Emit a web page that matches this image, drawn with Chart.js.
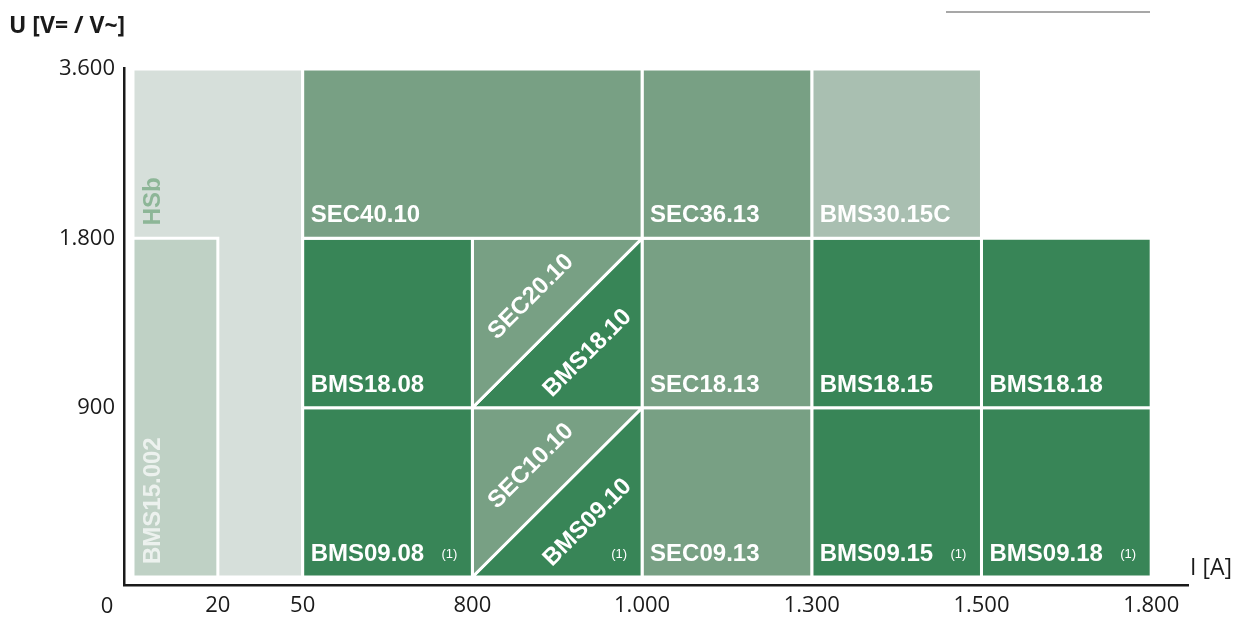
<!DOCTYPE html>
<html>
<head>
<meta charset="utf-8">
<script src="https://cdn.jsdelivr.net/npm/chart.js@4/dist/chart.umd.min.js"></script>
<style>
  html, body { margin: 0; padding: 0; background: #fff; }
  canvas { display: block; }
</style>
</head>
<body>
<canvas id="chart" width="1238" height="617"></canvas>
<script>
// axis ticks: current I [A] and voltage U [V], the drawn axis is evenly spaced per step
const xTicks = [0, 20, 50, 800, 1000, 1300, 1500, 1800];
const xSlots = [0, 0.5, 1, 2, 3, 4, 5, 6];
const yTicks = [0, 900, 1800, 3600];
const ySlots = [0, 1, 2, 3];

// product areas (I from/to, U from/to)
const boxNames = ['HSb', 'BMS15.002', 'SEC40.10', 'SEC36.13', 'BMS30.15C',
  'BMS18.08', 'SEC20.10', 'BMS18.10', 'SEC18.13', 'BMS18.15', 'BMS18.18',
  'BMS09.08', 'SEC10.10', 'BMS09.10', 'SEC09.13', 'BMS09.15', 'BMS09.18'];
const boxIFrom = [0, 0, 50, 1000, 1300, 50, 800, 800, 1000, 1300, 1500, 50, 800, 800, 1000, 1300, 1500];
const boxITo = [50, 20, 1000, 1300, 1500, 800, 1000, 1000, 1300, 1500, 1800, 800, 1000, 1000, 1300, 1500, 1800];
const boxUFrom = [0, 0, 1800, 1800, 1800, 900, 900, 900, 900, 900, 900, 0, 0, 0, 0, 0, 0];
const boxUTo = [3600, 1800, 3600, 3600, 3600, 1800, 1800, 1800, 1800, 1800, 1800, 900, 900, 900, 900, 900, 900];
// rect, or the upper-left / lower-right half of a split area
const boxShape = ['rect', 'rect', 'rect', 'rect', 'rect', 'rect', 'upper', 'lower', 'rect', 'rect', 'rect',
  'rect', 'upper', 'lower', 'rect', 'rect', 'rect'];
const footnoted = ['BMS09.08', 'BMS09.10', 'BMS09.15', 'BMS09.18'];

const COLORS = {
  'HSb': '#d6dfda',
  'BMS15.002': '#bfd1c5',
  'BMS30.15C': '#a9bfb1',
  SEC: '#78a084',
  BMS: '#388557'
};
const colorFor = (name) => COLORS[name] || (name.startsWith('SEC') ? COLORS.SEC : COLORS.BMS);

const fmt = new Intl.NumberFormat('de-DE');
const sx = (v) => xSlots[xTicks.indexOf(v)];
const sy = (v) => ySlots[yTicks.indexOf(v)];

function outline(i) {
  const x0 = sx(boxIFrom[i]), x1 = sx(boxITo[i]);
  const y0 = sy(boxUFrom[i]), y1 = sy(boxUTo[i]);
  if (boxShape[i] === 'upper') {
    return [{x: x0, y: y0}, {x: x0, y: y1}, {x: x1, y: y1}, {x: x0, y: y0}];
  }
  if (boxShape[i] === 'lower') {
    return [{x: x0, y: y0}, {x: x1, y: y0}, {x: x1, y: y1}, {x: x0, y: y0}];
  }
  return [{x: x0, y: y0}, {x: x0, y: y1}, {x: x1, y: y1}, {x: x1, y: y0}, {x: x0, y: y0}];
}

const datasets = boxNames.map((name, i) => ({
  label: name,
  data: outline(i),
  fill: 'shape',
  backgroundColor: colorFor(name),
  borderColor: '#ffffff',
  borderWidth: 3,
  borderJoinStyle: 'miter',
  pointRadius: 0,
  tension: 0,
  order: name === 'HSb' ? 1 : 0
}));

const BOLD = 'bold 24px "Liberation Sans", Arial, sans-serif';
const TICK_FONT = { family: '"Open Sans", sans-serif', size: 22 };

const boxLabels = {
  id: 'boxLabels',
  afterDatasetsDraw(chart) {
    const {ctx, scales: {x, y}} = chart;
    ctx.save();
    boxNames.forEach((name, i) => {
      const left = x.getPixelForValue(sx(boxIFrom[i]));
      const right = x.getPixelForValue(sx(boxITo[i]));
      const bottom = y.getPixelForValue(sy(boxUFrom[i]));
      const top = y.getPixelForValue(sy(boxUTo[i]));
      ctx.font = BOLD;
      ctx.fillStyle = '#ffffff';
      if (name === 'HSb' || name === 'BMS15.002') {
        // vertical label, reading upwards
        const base = name === 'HSb' ? y.getPixelForValue(sy(boxUTo[1])) : bottom;
        ctx.save();
        ctx.translate(left + 27.5, base - 13);
        ctx.rotate(-Math.PI / 2);
        ctx.fillStyle = name === 'HSb' ? '#8db697' : 'rgba(255,255,255,0.7)';
        ctx.textAlign = 'left';
        ctx.textBaseline = 'alphabetic';
        ctx.fillText(name, 0, 0);
        ctx.restore();
      } else if (boxShape[i] === 'rect') {
        ctx.textAlign = 'left';
        ctx.textBaseline = 'alphabetic';
        ctx.fillText(name, left + 8, bottom - 16);
      } else {
        const cx = boxShape[i] === 'upper' ? (2 * left + right) / 3 : (left + 2 * right) / 3;
        const cy = boxShape[i] === 'upper' ? (bottom + 2 * top) / 3 : (2 * bottom + top) / 3;
        ctx.save();
        ctx.translate(cx + 2, cy + 2);
        ctx.rotate(Math.atan2(top - bottom, right - left));
        ctx.textAlign = 'center';
        ctx.textBaseline = 'middle';
        ctx.fillText(name, 0, 0);
        ctx.restore();
      }
      if (footnoted.includes(name)) {
        ctx.font = '13px "Liberation Sans", Arial, sans-serif';
        ctx.fillStyle = '#ffffff';
        ctx.textAlign = 'center';
        ctx.textBaseline = 'alphabetic';
        ctx.fillText('(1)', right - 23, bottom - 19);
      }
    });

    // axis captions and origin label
    ctx.fillStyle = '#1a1a1a';
    ctx.textBaseline = 'middle';
    ctx.textAlign = 'left';
    ctx.font = 'bold 23px "Open Sans", sans-serif';
    ctx.fillText('U [V= / V~]', 9, 26);
    ctx.font = '23px "Open Sans", sans-serif';
    ctx.fillText('I [A]', 1190, 568);
    ctx.textAlign = 'center';
    ctx.font = '22px "Open Sans", sans-serif';
    ctx.fillText(fmt.format(xTicks[0]), 107, 607);

    // thin rule top right
    ctx.strokeStyle = '#8a8a8a';
    ctx.lineWidth = 1.5;
    ctx.beginPath();
    ctx.moveTo(946, 12);
    ctx.lineTo(1150, 12);
    ctx.stroke();
    ctx.restore();
  }
};

new Chart(document.getElementById('chart'), {
  type: 'line',
  data: { datasets },
  options: {
    responsive: false,
    animation: false,
    devicePixelRatio: 1,
    events: [],
    layout: { padding: { top: 68, right: 50, left: 0, bottom: 0 } },
    plugins: { legend: { display: false }, tooltip: { enabled: false } },
    scales: {
      x: {
        type: 'linear',
        min: -0.053,
        max: 6.217,
        grid: { display: false, drawTicks: false },
        border: { display: true, color: '#1a1a1a', width: 2.5 },
        afterBuildTicks: (s) => { s.ticks = xSlots.slice(1).map(v => ({ value: v })); },
        afterFit: (s) => { s.height = 32; },
        ticks: {
          autoSkip: false,
          maxRotation: 0,
          padding: 8,
          color: '#1a1a1a',
          font: TICK_FONT,
          callback: (v) => fmt.format(xTicks[xSlots.indexOf(v)])
        }
      },
      y: {
        type: 'linear',
        min: -0.047,
        max: 3.006,
        grid: { display: false, drawTicks: false },
        border: { display: true, color: '#1a1a1a', width: 2.5 },
        afterBuildTicks: (s) => { s.ticks = ySlots.slice(1).map(v => ({ value: v })); },
        afterFit: (s) => { s.width = 124; },
        ticks: {
          autoSkip: false,
          padding: 9,
          color: '#1a1a1a',
          font: TICK_FONT,
          callback: (v) => fmt.format(yTicks[ySlots.indexOf(v)])
        }
      }
    }
  },
  plugins: [boxLabels]
});
</script>
</body>
</html>
